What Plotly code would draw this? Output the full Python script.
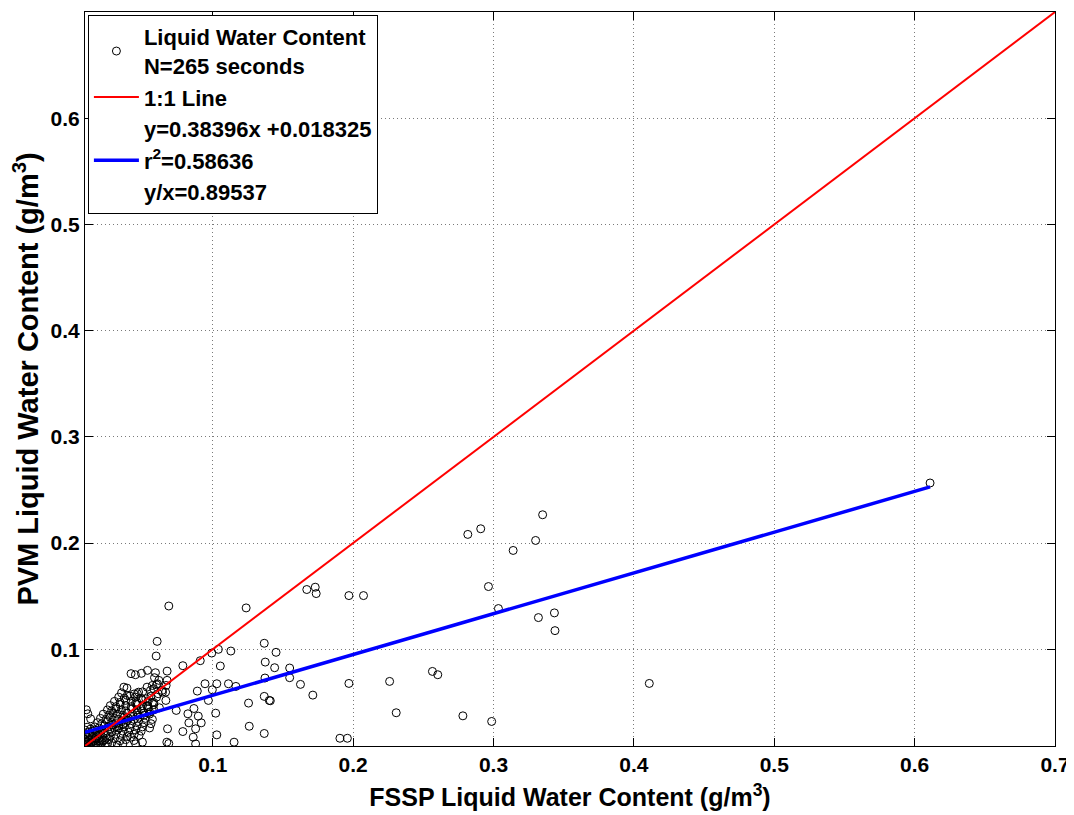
import plotly.graph_objects as go

# ---- data ----
outliers = [
    (0.611, 0.2566),
    (0.2817, 0.2082), (0.2909, 0.2135), (0.335, 0.2267), (0.330, 0.2025), (0.314, 0.1931),
    (0.2964, 0.1591), (0.3035, 0.1384), (0.332, 0.1299), (0.3434, 0.1343), (0.3438, 0.1176), (0.411, 0.0679),
    (0.167, 0.1563), (0.173, 0.1585), (0.1737, 0.1525), (0.197, 0.1506), (0.2074, 0.1506),
    (0.1451, 0.0972), (0.1441, 0.0827), (0.1548, 0.0824), (0.1548, 0.0733), (0.1625, 0.067), (0.1713, 0.0569),
    (0.141, 0.0516), (0.197, 0.0679), (0.226, 0.0698), (0.2307, 0.0403), (0.2565, 0.0792), (0.2603, 0.0761),
    (0.2782, 0.0374), (0.2987, 0.0321), (0.1906, 0.0163), (0.1959, 0.0163),
    (0.0687, 0.1408), (0.1238, 0.139), (0.1367, 0.1057), (0.104, 0.100), (0.0993, 0.0965), (0.1129, 0.0984),
    (0.0911, 0.0893), (0.0787, 0.0846), (0.1054, 0.0843), (0.1374, 0.088),
    (0.0945, 0.0676), (0.1029, 0.0676), (0.1112, 0.0676), (0.0997, 0.0619), (0.1165, 0.0651), (0.1372, 0.073),
    (0.1367, 0.0557), (0.1403, 0.0519), (0.089, 0.0607), (0.0969, 0.0519), (0.1255, 0.0494), (0.074, 0.0425),
    (0.0866, 0.0443), (0.0823, 0.0393), (0.0897, 0.0371), (0.1021, 0.0399), (0.083, 0.0308), (0.0918, 0.0308),
    (0.0878, 0.0252), (0.0787, 0.0226), (0.126, 0.0276), (0.1029, 0.0195), (0.0861, 0.0173), (0.0878, 0.011),
    (0.1152, 0.0126), (0.1367, 0.0208), (0.0687, 0.0113),
    (0.0604, 0.1075), (0.0597, 0.0937), (0.0675, 0.0795), (0.0535, 0.0802), (0.0418, 0.0771), (0.0449, 0.0761),
    (0.0492, 0.0774), (0.0389, 0.0635), (0.0592, 0.078),
    (0.0585, 0.0733), (0.0616, 0.0708), (0.0599, 0.0667),
    (0.0472, 0.0597), (0.0532, 0.0644), (0.0556, 0.0613), (0.058, 0.0629), (0.0611, 0.0582), (0.0639, 0.0613),
    (0.0664, 0.0597), (0.0675, 0.0708), (0.0668, 0.066),
    (0.0367, 0.0644), (0.0391, 0.0566), (0.0463, 0.0582), (0.0523, 0.0535), (0.057, 0.066), (0.0606, 0.0676),
    (0.0642, 0.0597), (0.0666, 0.0519), (0.0678, 0.0252), (0.0673, 0.0126),
    (0.0415, 0.0173), (0.0439, 0.0142), (0.0475, 0.0189), (0.0499, 0.0126), (0.0451, 0.011),
    (0.010, 0.0431), (0.011, 0.0393), (0.013, 0.0346), (0.0105, 0.0267), (0.0093, 0.0205), (0.0093, 0.0126),
    (0.0105, 0.011),
]
cluster = [
    (0.011, 0.010), (0.014, 0.012), (0.017, 0.010), (0.020, 0.011), (0.024, 0.010), (0.028, 0.012), (0.032, 0.010), (0.036, 0.011),
    (0.012, 0.015), (0.016, 0.014), (0.019, 0.016), (0.022, 0.014), (0.026, 0.015), (0.030, 0.016), (0.034, 0.014), (0.038, 0.015),
    (0.013, 0.019), (0.017, 0.018), (0.020, 0.020), (0.024, 0.019), (0.027, 0.018), (0.031, 0.020), (0.035, 0.019), (0.039, 0.018), (0.044, 0.020),
    (0.014, 0.023), (0.018, 0.022), (0.021, 0.024), (0.025, 0.023), (0.028, 0.022), (0.032, 0.024), (0.036, 0.023), (0.040, 0.022), (0.045, 0.024), (0.049, 0.023),
    (0.016, 0.027), (0.019, 0.026), (0.023, 0.028), (0.026, 0.027), (0.030, 0.026), (0.033, 0.028), (0.037, 0.027), (0.041, 0.026), (0.046, 0.028), (0.050, 0.027), (0.055, 0.026),
    (0.018, 0.031), (0.021, 0.030), (0.025, 0.032), (0.028, 0.031), (0.031, 0.030), (0.035, 0.032), (0.038, 0.031), (0.042, 0.030), (0.047, 0.032), (0.051, 0.031), (0.056, 0.030),
    (0.020, 0.035), (0.024, 0.034), (0.027, 0.036), (0.030, 0.035), (0.033, 0.034), (0.037, 0.036), (0.040, 0.035), (0.044, 0.034), (0.048, 0.036), (0.052, 0.035), (0.057, 0.034),
    (0.022, 0.039), (0.026, 0.038), (0.029, 0.040), (0.032, 0.039), (0.036, 0.038), (0.039, 0.040), (0.043, 0.039), (0.047, 0.038), (0.051, 0.040), (0.055, 0.039),
    (0.025, 0.043), (0.028, 0.042), (0.031, 0.044), (0.035, 0.043), (0.038, 0.042), (0.042, 0.044), (0.046, 0.043), (0.050, 0.042), (0.054, 0.044), (0.058, 0.043),
    (0.027, 0.047), (0.031, 0.046), (0.034, 0.048), (0.038, 0.047), (0.042, 0.046), (0.046, 0.048), (0.050, 0.047), (0.054, 0.046), (0.058, 0.048),
    (0.030, 0.051), (0.034, 0.050), (0.038, 0.052), (0.042, 0.051), (0.046, 0.050), (0.050, 0.052), (0.054, 0.051), (0.058, 0.050),
    (0.033, 0.055), (0.037, 0.054), (0.041, 0.056), (0.045, 0.055), (0.049, 0.054), (0.056, 0.056),
    (0.035, 0.059), (0.044, 0.058), (0.050, 0.060),
    (0.009, 0.009), (0.010, 0.011), (0.011, 0.013), (0.012, 0.009), (0.013, 0.011), (0.014, 0.015), (0.009, 0.015),
    (0.010, 0.018), (0.012, 0.020), (0.015, 0.010), (0.016, 0.016), (0.017, 0.012), (0.018, 0.019), (0.019, 0.014),
    (0.020, 0.017), (0.021, 0.012), (0.022, 0.021), (0.011, 0.022), (0.013, 0.025), (0.016, 0.024), (0.014, 0.018),
    (0.009, 0.024), (0.018, 0.009), (0.023, 0.015), (0.025, 0.011),
    (0.029, 0.029), (0.033, 0.026), (0.036, 0.029), (0.039, 0.033), (0.042, 0.037), (0.045, 0.049), (0.046, 0.040),
    (0.049, 0.044), (0.051, 0.038), (0.053, 0.047), (0.055, 0.041), (0.057, 0.050), (0.060, 0.055), (0.062, 0.045),
]
fssp_lwc = [p[0] for p in outliers + cluster]
pvm_lwc = [p[1] for p in outliers + cluster]

fit_slope = 0.38396
fit_intercept = 0.018325
axis_min = 0.009
axis_max = 0.7
x_ticks = [0.1, 0.2, 0.3, 0.4, 0.5, 0.6, 0.7]
y_ticks = [0.1, 0.2, 0.3, 0.4, 0.5, 0.6]

legend_scatter = "Liquid Water Content<br>N=265 seconds"
legend_one2one = "1:1 Line"
legend_eq = "y=0.38396x +0.018325"
legend_r2 = "r<sup>2</sup>=0.58636"
legend_ratio = "y/x=0.89537"

# ---- figure ----
FONT = "Liberation Sans, Arial, sans-serif"
fig = go.Figure()

fig.add_trace(go.Scatter(
    x=fssp_lwc, y=pvm_lwc, mode="markers", name=legend_scatter, legendrank=1,
    marker=dict(symbol="circle-open", size=8, color="black", line=dict(width=1, color="black")),
))
fit_x = [min(fssp_lwc), max(fssp_lwc)]
fig.add_trace(go.Scatter(
    x=fit_x, y=[fit_slope * v + fit_intercept for v in fit_x], mode="lines",
    name=legend_r2, legendrank=4, line=dict(color="blue", width=3.5),
))
one_x = [axis_min, axis_max]
fig.add_trace(go.Scatter(
    x=one_x, y=one_x, mode="lines", name=legend_one2one, legendrank=2,
    line=dict(color="red", width=2),
))
for name, rank in [(legend_eq, 3), (legend_ratio, 5)]:
    fig.add_trace(go.Scatter(
        x=[None], y=[None], mode="lines", name=name, legendrank=rank,
        line=dict(color="rgba(0,0,0,0)", width=1),
    ))

axis_common = dict(
    showline=True, linecolor="black", linewidth=1, mirror="ticks",
    ticks="inside", ticklen=8, tickcolor="black", tickwidth=1,
    showgrid=True, gridcolor="#7a7a7a", griddash="1px,3px", gridwidth=1,
    zeroline=False, automargin=False,
    tickfont=dict(family=FONT, size=21, color="black", weight="bold"),
)
fig.update_xaxes(
    range=[axis_min, axis_max], tickvals=x_ticks, ticktext=[str(v) for v in x_ticks],
    title=dict(text="FSSP Liquid Water Content (g/m<sup>3</sup>)",
               font=dict(family=FONT, size=25, color="black", weight="bold"), standoff=13),
    **axis_common,
)
fig.update_yaxes(
    range=[axis_min, axis_max], tickvals=y_ticks, ticktext=[str(v) for v in y_ticks],
    title=dict(text="PVM Liquid Water Content (g/m<sup>3</sup>)",
               font=dict(family=FONT, size=29, color="black", weight="bold"), standoff=8),
    **axis_common,
)

# the page body adds an 8 px offset, so the figure is sized to fit the window
fig.update_layout(
    width=1066, height=807,
    margin=dict(l=77, r=19, t=4, b=69),
    paper_bgcolor="white", plot_bgcolor="white",
    showlegend=True,
    legend=dict(
        x=0.003, y=0.996, xanchor="left", yanchor="top",
        bgcolor="white", bordercolor="black", borderwidth=1,
        font=dict(family=FONT, size=22, color="black", weight="bold"),
        itemwidth=45, tracegroupgap=0,
    ),
)

fig.write_html("out.html")
